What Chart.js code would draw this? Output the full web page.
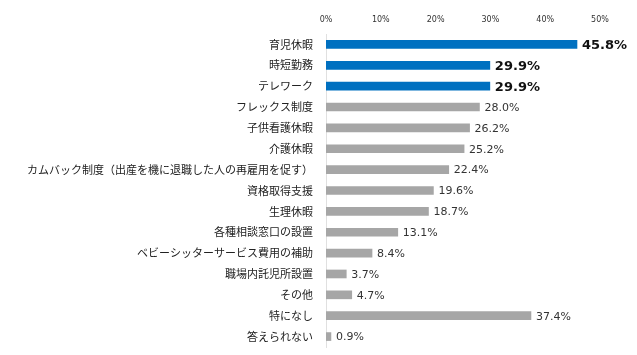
<!DOCTYPE html>
<html><head><meta charset="utf-8">
<script src="https://cdn.jsdelivr.net/npm/chart.js@4.4.0/dist/chart.umd.min.js"></script>
<style>html,body{margin:0;padding:0;background:#fff}#wrap{width:637px;height:355px}</style>
</head><body><div id="wrap"><canvas id="c"></canvas></div>
<script>
const categories = ["育児休暇","時短勤務","テレワーク","フレックス制度","子供看護休暇","介護休暇","カムバック制度（出産を機に退職した人の再雇用を促す）","資格取得支援","生理休暇","各種相談窓口の設置","ベビーシッターサービス費用の補助","職場内託児所設置","その他","特になし","答えられない"];
const values = [45.8,29.9,29.9,28.0,26.2,25.2,22.4,19.6,18.7,13.1,8.4,3.7,4.7,37.4,0.9];
const highlighted = [true,true,true,false,false,false,false,false,false,false,false,false,false,false,false];
const tickValues = [0,10,20,30,40,50];

const labelPlugin = {
  id:'vlabels',
  afterDatasetsDraw(chart){
    const ctx = chart.ctx;
    const meta = chart.getDatasetMeta(0);
    ctx.save();
    ctx.textBaseline='middle';
    ctx.textAlign='left';
    meta.data.forEach((bar,i)=>{
      const hi = highlighted[i];
      ctx.font = hi ? 'bold 13px "DejaVu Sans"' : '11px "DejaVu Sans"';
      ctx.fillStyle = hi ? '#111' : '#333';
      ctx.fillText(values[i].toFixed(1)+'%', bar.x+5, bar.y+1);
    });
    ctx.restore();
  }
};

new Chart(document.getElementById('c'),{
  type:'bar',
  data:{labels:categories,datasets:[{data:values,
    backgroundColor:highlighted.map(h=>h?'#0070C0':'#A6A6A6'),
    barThickness:8}]},
  options:{
    indexAxis:'y',responsive:true,maintainAspectRatio:false,animation:false,
    layout:{padding:{left:0,right:37,top:0,bottom:8}},
    plugins:{legend:{display:false},tooltip:{enabled:false}},
    scales:{
      x:{position:'top',min:0,max:50,
        afterBuildTicks(s){s.ticks=tickValues.map(v=>({value:v}));},
        afterFit(s){s.height=34;},
        grid:{display:false,drawTicks:false},
        border:{display:false},
        ticks:{padding:9,color:'#333',font:{family:'"DejaVu Sans"',size:8},callback:v=>v+'%'}},
      y:{
        afterFit(s){s.width=326;s.paddingTop=0;s.paddingBottom=0;},
        grid:{display:false,drawTicks:false},
        border:{display:true,color:'#e0e0e0',width:1},
        ticks:{padding:13,color:'#222',font:{family:'"Noto Sans CJK JP"',size:11},autoSkip:false}}
    }
  },
  plugins:[labelPlugin]
});
</script></body></html>
